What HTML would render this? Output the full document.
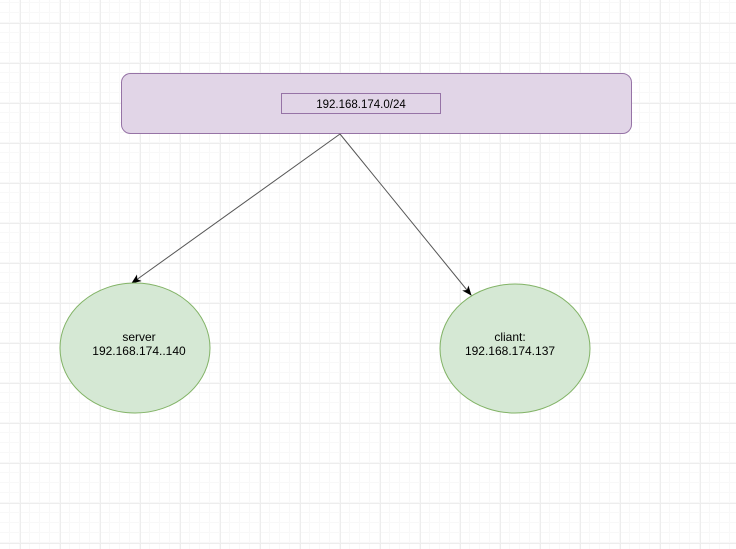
<!DOCTYPE html>
<html><head><meta charset="utf-8"><style>
html,body{margin:0;padding:0;background:#fff;width:736px;height:549px;overflow:hidden}
</style></head><body>
<svg width="736" height="549" viewBox="0 0 736 549" xmlns="http://www.w3.org/2000/svg" font-family="Liberation Sans, Arial, sans-serif">
<defs>
<pattern id="minor" x="0" y="3" width="10" height="10" patternUnits="userSpaceOnUse">
<path d="M10 0V10M0 10H10" stroke="#f8f8f8" stroke-width="1" fill="none" transform="translate(-0.5,-0.5)"/>
</pattern>
<pattern id="major" x="20" y="23" width="40" height="40" patternUnits="userSpaceOnUse">
<path d="M0.5 0V40M0 0.5H40" stroke="#ededed" stroke-width="1" fill="none"/>
</pattern>
<marker id="ar" markerWidth="10" markerHeight="10" refX="9" refY="5" orient="auto" markerUnits="userSpaceOnUse">
<path d="M0,1 L10,5 L0,9 L2.5,5 Z" fill="#000"/>
</marker>
</defs>
<rect width="736" height="549" fill="url(#minor)"/>
<rect width="736" height="549" fill="url(#major)"/>
<rect x="121.5" y="73.5" width="510" height="60" rx="9" fill="#e1d5e7" stroke="#9673a6"/>
<rect x="281.5" y="93.5" width="159" height="20" fill="#e1d5e7" stroke="#9673a6"/>
<text x="361" y="108" font-size="11.5" text-anchor="middle" fill="#000">192.168.174.0/24</text>
<line x1="340" y1="134" x2="132" y2="283" stroke="#555" stroke-width="1" marker-end="url(#ar)"/>
<line x1="340" y1="134" x2="471" y2="295" stroke="#555" stroke-width="1" marker-end="url(#ar)"/>
<ellipse cx="135" cy="348" rx="75" ry="65" fill="#d5e8d4" stroke="#82b366"/>
<ellipse cx="515" cy="348.5" rx="75" ry="64.5" fill="#d5e8d4" stroke="#82b366"/>
<text x="139" y="341" font-size="12" text-anchor="middle" fill="#000">server</text>
<text x="139" y="355" font-size="12" text-anchor="middle" fill="#000">192.168.174..140</text>
<text x="510" y="341" font-size="12" text-anchor="middle" fill="#000">cliant:</text>
<text x="510" y="355" font-size="12" text-anchor="middle" fill="#000">192.168.174.137</text>
</svg>
</body></html>
